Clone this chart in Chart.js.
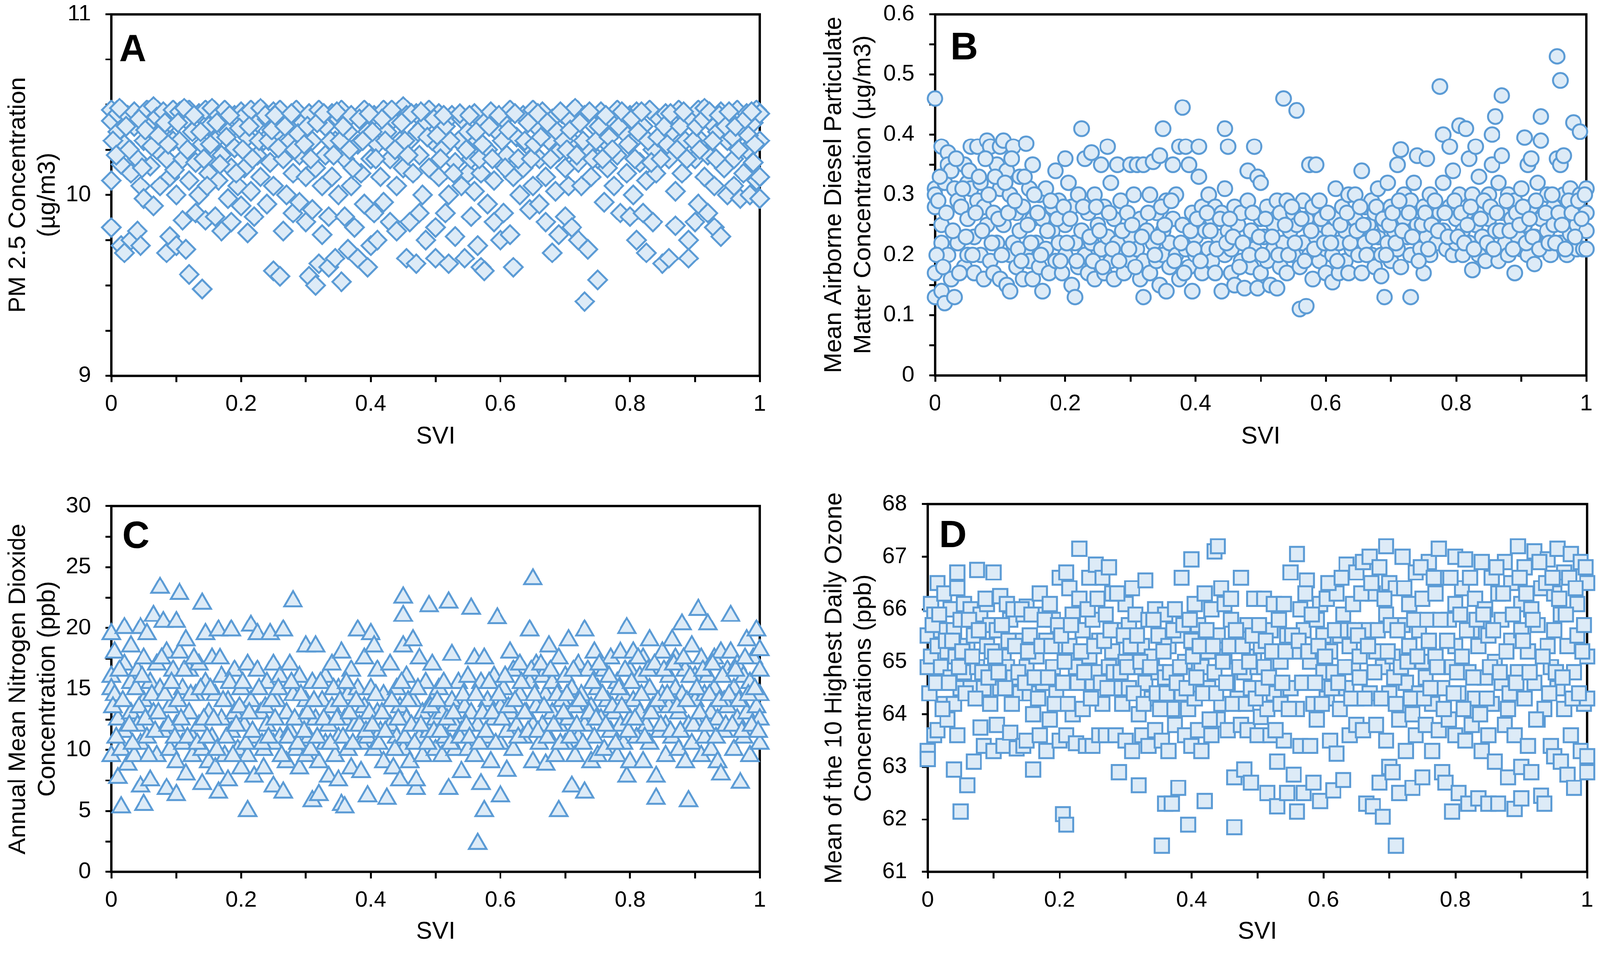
<!DOCTYPE html>
<html>
<head>
<meta charset="utf-8">
<script src="https://cdn.jsdelivr.net/npm/chart.js@4.4.1/dist/chart.umd.min.js"></script>
<style>
  html, body { margin: 0; padding: 0; background: #fff; overflow: hidden; }
  #lienzo { width: 4136px; height: 2459px; position: absolute; left: 0; top: 0; overflow: hidden; transform-origin: 0 0; }
  canvas { position: absolute; left: 0; top: 0; }
</style>
</head>
<body>
<div id="lienzo">
<canvas id="chartA" width="2150" height="1300"></canvas>
<canvas id="chartB" width="2150" height="1300"></canvas>
<canvas id="chartC" width="2150" height="1300"></canvas>
<canvas id="chartD" width="2150" height="1300"></canvas>
</div>
<script>
// Puntos: [SVI, valor]
const pm25 = [
  [0,10.47],[0,10.41],[0,10.08],[0,9.82],[0.01,10.45],[0.01,10.35],[0.015,10.17],[0.015,9.72],[0.02,9.68],[0.02,10.28],[0.025,10.44],[0.03,10.12],[0.03,9.75],[0.035,10.46],[0.035,10.38],[0.04,10.2],[0.04,9.8],[0.045,10.05],[0.045,9.72],[0.05,10.45],[0.05,10.3],[0.05,9.98],
  [0.055,10.47],[0.06,10.4],[0.06,10.16],[0.065,10.49],[0.065,9.94],[0.07,10.43],[0.07,10.25],[0.075,10.35],[0.075,10.05],[0.08,10.46],[0.085,10.2],[0.085,9.68],[0.09,10.4],[0.09,10.1],[0.09,9.77],[0.095,10.47],[0.095,10.3],[0.1,10.0],[0.1,9.72],
  [0.105,10.46],[0.105,10.3],[0.11,10.2],[0.11,9.86],[0.115,10.42],[0.115,9.7],[0.12,10.47],[0.12,10.08],[0.12,9.56],[0.125,10.35],[0.13,10.18],[0.13,9.9],[0.135,10.45],[0.135,10.0],[0.14,10.28],[0.14,9.48],[0.145,10.47],[0.145,9.86],[0.15,10.38],[0.15,10.12],
  [0.155,10.48],[0.16,10.3],[0.16,9.88],[0.165,10.44],[0.165,10.08],[0.17,10.22],[0.17,9.8],[0.175,10.47],[0.18,10.35],[0.18,9.98],[0.185,10.15],[0.185,9.85],[0.19,10.44],[0.19,10.26],[0.195,10.05],[0.2,10.46],[0.2,9.94],
  [0.205,10.44],[0.205,10.15],[0.21,10.32],[0.21,9.79],[0.215,10.47],[0.215,10.02],[0.22,9.88],[0.225,10.4],[0.225,10.22],[0.23,10.48],[0.23,10.1],[0.235,10.3],[0.24,9.95],[0.24,10.42],[0.245,10.18],[0.25,10.46],[0.25,9.58],[0.25,10.05],
  [0.255,10.35],[0.26,10.47],[0.26,9.55],[0.265,10.2],[0.265,9.8],[0.27,10.42],[0.27,10.0],[0.275,10.3],[0.28,10.12],[0.28,9.9],[0.285,10.47],[0.29,10.22],[0.29,9.96],[0.295,10.4],[0.3,10.1],[0.3,9.85],
  [0.305,10.45],[0.305,9.55],[0.31,10.3],[0.31,9.92],[0.315,10.15],[0.315,9.5],[0.32,10.47],[0.32,9.62],[0.325,10.05],[0.325,9.78],[0.33,10.38],[0.33,10.22],[0.335,9.88],[0.335,9.6],[0.34,10.45],[0.34,10.1],[0.345,10.3],[0.345,9.65],[0.35,10.0],[0.35,10.42],
  [0.355,10.47],[0.355,9.52],[0.36,10.2],[0.36,9.88],[0.365,10.35],[0.365,9.7],[0.37,10.05],[0.37,10.44],[0.375,9.82],[0.38,10.28],[0.38,9.65],[0.385,10.12],[0.39,10.47],[0.39,9.95],[0.395,9.6],[0.395,10.35],[0.4,10.2],[0.4,9.72],
  [0.405,10.44],[0.405,9.9],[0.41,10.28],[0.41,9.75],[0.415,10.1],[0.42,10.47],[0.42,9.96],[0.425,10.35],[0.43,10.2],[0.43,9.85],[0.435,10.42],[0.44,10.05],[0.44,9.8],[0.445,10.3],[0.45,10.49],[0.45,10.15],
  [0.455,10.44],[0.455,9.65],[0.46,10.3],[0.46,9.85],[0.465,10.12],[0.47,10.45],[0.47,9.62],[0.475,10.22],[0.475,9.9],[0.48,10.38],[0.48,10.0],[0.485,9.75],[0.49,10.47],[0.49,10.15],[0.495,10.3],[0.5,9.82],[0.5,9.65],
  [0.505,10.45],[0.505,10.1],[0.51,10.25],[0.515,10.38],[0.515,9.9],[0.52,10.0],[0.52,9.62],[0.525,10.44],[0.53,10.18],[0.53,9.77],[0.535,10.3],[0.54,10.42],[0.54,10.05],[0.545,9.65],[0.55,10.35],[0.55,10.12],
  [0.555,10.2],[0.555,9.88],[0.56,10.45],[0.56,10.02],[0.565,9.72],[0.565,10.3],[0.57,9.6],[0.57,10.12],[0.575,10.4],[0.575,9.58],[0.58,9.95],[0.58,10.25],[0.585,10.46],[0.59,9.85],[0.59,10.08],[0.595,10.35],[0.6,9.75],[0.6,10.18],
  [0.605,10.42],[0.605,9.9],[0.61,10.22],[0.615,10.47],[0.615,9.78],[0.62,10.1],[0.62,9.6],[0.625,10.32],[0.63,10.0],[0.635,10.44],[0.635,10.15],[0.64,10.28],[0.645,9.92],[0.65,10.47],[0.65,10.05],
  [0.655,10.38],[0.66,10.2],[0.66,9.95],[0.665,10.46],[0.67,10.1],[0.67,9.85],[0.675,10.3],[0.68,10.42],[0.68,9.68],[0.685,10.02],[0.69,10.24],[0.69,9.78],[0.695,10.45],[0.7,10.15],[0.7,9.88],
  [0.705,10.42],[0.705,10.05],[0.71,10.3],[0.71,9.82],[0.715,10.48],[0.72,10.18],[0.72,9.75],[0.725,10.05],[0.73,10.44],[0.73,9.41],[0.735,10.25],[0.735,9.7],[0.74,10.1],[0.745,10.38],[0.75,9.53],[0.75,10.2],
  [0.755,10.46],[0.76,10.3],[0.76,9.96],[0.765,10.15],[0.77,10.42],[0.775,10.05],[0.78,10.47],[0.78,10.22],[0.785,9.9],[0.79,10.35],[0.795,10.12],[0.8,10.44],[0.8,9.88],
  [0.805,10.3],[0.805,10.0],[0.81,10.46],[0.81,9.75],[0.815,10.18],[0.82,9.9],[0.82,10.38],[0.825,10.08],[0.825,9.68],[0.83,10.47],[0.835,10.25],[0.835,9.85],[0.84,10.12],[0.845,10.42],[0.85,9.62],[0.85,10.3],
  [0.855,10.45],[0.86,10.2],[0.86,9.65],[0.865,10.35],[0.87,10.02],[0.87,9.83],[0.875,10.47],[0.88,10.12],[0.885,10.3],[0.89,9.75],[0.89,9.65],[0.895,10.42],[0.9,10.2],[0.9,9.85],
  [0.905,10.47],[0.905,9.95],[0.91,10.3],[0.915,10.48],[0.915,10.1],[0.92,9.9],[0.92,10.22],[0.925,10.4],[0.93,10.05],[0.93,9.82],[0.935,10.35],[0.94,10.46],[0.94,9.77],[0.945,10.15],[0.95,10.3],[0.95,10.0],
  [0.955,10.44],[0.96,10.2],[0.96,10.05],[0.965,10.47],[0.97,10.35],[0.97,9.98],[0.975,10.12],[0.98,10.45],[0.98,10.25],[0.985,10.0],[0.99,10.4],[0.99,10.18],[0.995,10.47],[0.995,10.08],[1,10.45],[1,10.3],[1,9.98],[1,10.1],
  [0.0025,10.3],[0.0075,10.22],[0.0125,10.48],[0.0225,10.38],[0.0275,10.25],[0.0425,10.42],[0.0475,10.15],
  [0.0525,10.36],[0.0625,10.27],[0.0725,10.33],[0.0825,10.4],[0.0875,10.28],[0.0975,10.14],
  [0.1025,10.4],[0.1125,10.48],[0.1175,10.25],[0.1275,10.44],[0.1375,10.35],[0.1425,10.2],[0.1475,10.05],
  [0.1525,10.28],[0.1625,10.4],[0.1675,10.17],[0.1775,10.32],[0.1825,10.44],[0.1925,10.12],[0.1975,10.37],
  [0.2025,10.25],[0.2125,10.38],[0.2175,10.2],[0.2275,10.3],[0.2375,10.44],[0.2425,10.3],[0.2475,10.36],
  [0.2525,10.44],[0.2575,10.26],[0.2675,10.38],[0.2775,10.45],[0.2825,10.25],[0.2875,10.34],[0.2975,10.28],
  [0.3025,10.38],[0.3075,10.2],[0.3175,10.4],[0.3275,10.45],[0.3375,10.3],[0.3425,10.22],[0.3475,10.46],
  [0.3525,10.3],[0.3575,10.38],[0.3675,10.25],[0.3725,10.15],[0.3825,10.42],[0.3875,10.3],[0.3975,10.45],
  [0.4025,10.35],[0.4075,10.2],[0.4175,10.42],[0.4225,10.3],[0.4325,10.47],[0.4375,10.25],[0.4475,10.4],
  [0.4525,10.3],[0.4575,10.22],[0.4625,10.45],[0.4725,10.35],[0.4775,10.46],[0.4875,10.32],[0.4975,10.42],
  [0.5025,10.33],[0.5075,10.2],[0.5125,10.44],[0.5225,10.3],[0.5275,10.12],[0.5375,10.45],[0.5475,10.25],
  [0.5525,10.44],[0.5625,10.35],[0.5675,10.2],[0.5725,10.28],[0.5825,10.38],[0.5875,10.2],[0.5975,10.44],
  [0.6025,10.3],[0.6075,10.15],[0.6125,10.36],[0.6225,10.45],[0.6275,10.2],[0.6375,10.3],[0.6425,10.4],[0.6475,10.2],
  [0.6525,10.28],[0.6575,10.45],[0.6625,10.32],[0.6725,10.4],[0.6775,10.2],[0.6875,10.35],[0.6925,10.46],[0.6975,10.3],
  [0.7025,10.25],[0.7075,10.36],[0.7175,10.22],[0.7225,10.4],[0.7275,10.3],[0.7375,10.46],[0.7425,10.2],[0.7475,10.3],
  [0.7525,10.38],[0.7575,10.2],[0.7625,10.44],[0.7675,10.32],[0.7725,10.25],[0.7825,10.38],[0.7875,10.46],[0.7975,10.28],
  [0.8025,10.42],[0.8075,10.2],[0.8125,10.35],[0.8175,10.46],[0.8275,10.3],[0.8325,10.18],[0.8425,10.32],[0.8475,10.2],
  [0.8525,10.38],[0.8575,10.28],[0.8625,10.45],[0.8725,10.25],[0.8775,10.38],[0.8825,10.46],[0.8875,10.2],[0.8975,10.3],
  [0.9025,10.38],[0.9075,10.25],[0.9125,10.42],[0.9225,10.46],[0.9275,10.3],[0.9325,10.2],[0.9375,10.44],[0.9475,10.38],
  [0.9525,10.46],[0.9575,10.32],[0.9625,10.38],[0.9675,10.25],[0.9775,10.42],[0.9825,10.33],[0.9875,10.46],[0.9925,10.28]
];

const dieselPM = [
  [0,0.46],[0,0.31],[0,0.30],[0,0.28],[0,0.17],[0,0.13],[0.005,0.29],[0.01,0.38],[0.01,0.25],[0.01,0.22],[0.01,0.14],[0.015,0.12],[0.015,0.32],[0.02,0.37],[0.02,0.35],[0.02,0.2],[0.025,0.34],[0.025,0.16],[0.03,0.31],[0.03,0.13],[0.035,0.22],[0.035,0.29],[0.04,0.28],[0.045,0.35],[0.045,0.18],[0.05,0.2],[0.05,0.32],[0.05,0.26],
  [0.055,0.38],[0.055,0.31],[0.06,0.23],[0.06,0.17],[0.065,0.38],[0.065,0.29],[0.07,0.32],[0.07,0.2],[0.075,0.28],[0.075,0.16],[0.08,0.39],[0.08,0.25],[0.085,0.38],[0.085,0.19],[0.09,0.27],[0.09,0.17],[0.095,0.35],[0.095,0.22],[0.1,0.31],[0.1,0.16],[0.1,0.38],
  [0.105,0.39],[0.105,0.25],[0.11,0.34],[0.11,0.15],[0.115,0.3],[0.115,0.2],[0.115,0.14],[0.12,0.38],[0.12,0.22],[0.125,0.27],[0.125,0.18],[0.13,0.33],[0.13,0.24],[0.135,0.28],[0.135,0.16],[0.14,0.385],[0.14,0.21],[0.145,0.31],[0.145,0.19],[0.15,0.35],[0.15,0.26],[0.15,0.16],
  [0.155,0.22],[0.16,0.3],[0.16,0.18],[0.165,0.14],[0.165,0.26],[0.17,0.31],[0.17,0.21],[0.175,0.17],[0.18,0.28],[0.18,0.24],[0.185,0.19],[0.185,0.34],[0.19,0.29],[0.19,0.22],[0.195,0.17],[0.2,0.36],[0.2,0.25],[0.2,0.2],
  [0.205,0.32],[0.21,0.28],[0.21,0.15],[0.215,0.22],[0.215,0.13],[0.22,0.3],[0.22,0.18],[0.225,0.41],[0.225,0.24],[0.23,0.36],[0.23,0.2],[0.235,0.27],[0.235,0.17],[0.24,0.37],[0.24,0.22],[0.245,0.3],[0.245,0.16],[0.25,0.25],[0.25,0.19],
  [0.255,0.35],[0.255,0.21],[0.26,0.28],[0.26,0.17],[0.265,0.38],[0.265,0.23],[0.27,0.32],[0.27,0.19],[0.275,0.26],[0.275,0.16],[0.28,0.35],[0.28,0.22],[0.285,0.29],[0.29,0.2],[0.29,0.17],[0.295,0.27],[0.3,0.35],[0.3,0.23],[0.3,0.19],
  [0.305,0.3],[0.31,0.35],[0.31,0.21],[0.315,0.16],[0.315,0.26],[0.32,0.35],[0.32,0.13],[0.32,0.19],[0.325,0.24],[0.33,0.3],[0.33,0.17],[0.335,0.355],[0.335,0.22],[0.34,0.27],[0.34,0.19],[0.345,0.365],[0.345,0.15],[0.35,0.41],[0.35,0.24],[0.35,0.2],
  [0.355,0.29],[0.355,0.14],[0.36,0.22],[0.36,0.18],[0.365,0.35],[0.365,0.26],[0.37,0.3],[0.37,0.2],[0.375,0.38],[0.375,0.16],[0.38,0.445],[0.38,0.25],[0.385,0.38],[0.385,0.21],[0.39,0.35],[0.39,0.18],[0.395,0.27],[0.395,0.14],[0.4,0.23],[0.4,0.2],
  [0.405,0.38],[0.405,0.33],[0.41,0.28],[0.41,0.17],[0.415,0.24],[0.42,0.21],[0.42,0.3],[0.425,0.19],[0.425,0.26],[0.43,0.28],[0.43,0.17],[0.435,0.23],[0.44,0.14],[0.44,0.27],[0.445,0.41],[0.445,0.31],[0.445,0.2],[0.45,0.38],[0.45,0.24],
  [0.455,0.21],[0.455,0.17],[0.46,0.28],[0.46,0.15],[0.465,0.25],[0.47,0.19],[0.47,0.27],[0.475,0.145],[0.475,0.22],[0.48,0.34],[0.48,0.29],[0.485,0.18],[0.485,0.24],[0.49,0.38],[0.49,0.21],[0.495,0.145],[0.495,0.33],[0.5,0.26],[0.5,0.17],[0.5,0.32],
  [0.505,0.23],[0.51,0.19],[0.51,0.28],[0.515,0.15],[0.52,0.25],[0.52,0.21],[0.525,0.29],[0.525,0.145],[0.53,0.18],[0.53,0.27],[0.535,0.46],[0.535,0.22],[0.54,0.29],[0.54,0.17],[0.545,0.24],[0.55,0.27],[0.55,0.2],
  [0.555,0.44],[0.555,0.25],[0.56,0.11],[0.56,0.18],[0.565,0.29],[0.565,0.22],[0.57,0.115],[0.57,0.26],[0.575,0.35],[0.575,0.2],[0.58,0.28],[0.58,0.16],[0.585,0.35],[0.585,0.23],[0.59,0.19],[0.59,0.29],[0.595,0.25],[0.6,0.21],[0.6,0.17],
  [0.605,0.24],[0.61,0.155],[0.61,0.2],[0.615,0.31],[0.615,0.26],[0.62,0.17],[0.62,0.22],[0.625,0.28],[0.63,0.19],[0.63,0.24],[0.635,0.3],[0.635,0.17],[0.64,0.21],[0.645,0.3],[0.645,0.26],[0.65,0.2],[0.65,0.23],
  [0.655,0.34],[0.655,0.17],[0.66,0.28],[0.66,0.22],[0.665,0.25],[0.67,0.29],[0.67,0.2],[0.675,0.27],[0.675,0.18],[0.68,0.23],[0.68,0.31],[0.685,0.165],[0.685,0.2],[0.69,0.13],[0.69,0.25],[0.695,0.32],[0.695,0.22],[0.7,0.28],[0.7,0.19],
  [0.705,0.24],[0.71,0.35],[0.71,0.21],[0.715,0.375],[0.715,0.18],[0.72,0.3],[0.72,0.26],[0.725,0.23],[0.73,0.13],[0.73,0.2],[0.73,0.29],[0.735,0.32],[0.74,0.365],[0.74,0.25],[0.745,0.21],[0.75,0.17],[0.75,0.28],
  [0.755,0.36],[0.755,0.23],[0.76,0.3],[0.76,0.2],[0.765,0.26],[0.77,0.22],[0.775,0.48],[0.775,0.27],[0.78,0.4],[0.78,0.32],[0.78,0.24],[0.785,0.21],[0.79,0.38],[0.79,0.28],[0.795,0.34],[0.795,0.2],[0.8,0.26],[0.8,0.22],
  [0.805,0.415],[0.805,0.3],[0.81,0.24],[0.81,0.2],[0.815,0.41],[0.815,0.27],[0.82,0.36],[0.82,0.22],[0.825,0.175],[0.825,0.3],[0.83,0.38],[0.83,0.25],[0.835,0.2],[0.835,0.33],[0.84,0.28],[0.84,0.23],[0.845,0.19],[0.85,0.26],[0.85,0.3],
  [0.855,0.4],[0.855,0.35],[0.86,0.43],[0.86,0.24],[0.865,0.32],[0.865,0.19],[0.87,0.465],[0.87,0.365],[0.87,0.27],[0.875,0.22],[0.88,0.3],[0.88,0.2],[0.885,0.26],[0.89,0.17],[0.89,0.29],[0.895,0.23],[0.9,0.31],[0.9,0.21],
  [0.905,0.395],[0.905,0.25],[0.91,0.35],[0.91,0.2],[0.915,0.36],[0.915,0.28],[0.92,0.185],[0.92,0.23],[0.925,0.32],[0.93,0.43],[0.93,0.39],[0.93,0.26],[0.935,0.21],[0.94,0.3],[0.94,0.24],[0.945,0.2],[0.95,0.28],[0.95,0.25],
  [0.955,0.53],[0.955,0.36],[0.96,0.49],[0.96,0.35],[0.96,0.22],[0.965,0.365],[0.965,0.3],[0.97,0.2],[0.97,0.26],[0.975,0.31],[0.975,0.235],[0.98,0.42],[0.98,0.28],[0.985,0.21],[0.985,0.25],[0.99,0.405],[0.99,0.3],[0.995,0.21],[1,0.27],[1,0.31],[1,0.24],[1,0.21],
  [0.0025,0.2],[0.0075,0.33],[0.0125,0.18],[0.0175,0.27],[0.0275,0.24],[0.0325,0.36],[0.0375,0.17],[0.0425,0.31],[0.0475,0.23],
  [0.0525,0.34],[0.0575,0.2],[0.0625,0.27],[0.0675,0.33],[0.0725,0.24],[0.0775,0.36],[0.0825,0.3],[0.0875,0.22],[0.0925,0.33],[0.0975,0.26],
  [0.1025,0.2],[0.1075,0.32],[0.1125,0.27],[0.1175,0.36],[0.1225,0.29],[0.1275,0.21],[0.1325,0.19],[0.1375,0.33],[0.1425,0.25],[0.1475,0.22],
  [0.1525,0.3],[0.1575,0.27],[0.1625,0.2],[0.1725,0.24],[0.1775,0.29],[0.1875,0.26],[0.1925,0.19],[0.1975,0.28],
  [0.2025,0.22],[0.2075,0.26],[0.2175,0.19],[0.2275,0.28],[0.2375,0.23],[0.2425,0.19],[0.2475,0.28],
  [0.2525,0.24],[0.2575,0.18],[0.2675,0.27],[0.2725,0.21],[0.2825,0.19],[0.2875,0.24],[0.2975,0.21],
  [0.3025,0.25],[0.3075,0.18],[0.3175,0.23],[0.3275,0.27],[0.3375,0.2],[0.3425,0.23],[0.3475,0.28],
  [0.3525,0.25],[0.3625,0.29],[0.3675,0.19],[0.3775,0.22],[0.3825,0.17],[0.3925,0.24],[0.3975,0.21],
  [0.4025,0.26],[0.4075,0.19],[0.4175,0.27],[0.4225,0.24],[0.4325,0.21],[0.4375,0.26],[0.4475,0.22],
  [0.4525,0.26],[0.4575,0.23],[0.4675,0.18],[0.4725,0.22],[0.4825,0.2],[0.4875,0.27],[0.4975,0.23],
  [0.5025,0.2],[0.5075,0.26],[0.5175,0.23],[0.5275,0.2],[0.5375,0.25],[0.5425,0.2],[0.5475,0.28],
  [0.5525,0.22],[0.5625,0.26],[0.5675,0.19],[0.5775,0.24],[0.5825,0.21],[0.5925,0.26],[0.5975,0.22],
  [0.6025,0.27],[0.6075,0.22],[0.6175,0.19],[0.6225,0.25],[0.6325,0.27],[0.6375,0.22],[0.6475,0.24],
  [0.6525,0.28],[0.6575,0.25],[0.6625,0.2],[0.6725,0.23],[0.6775,0.28],[0.6875,0.26],[0.6925,0.2],[0.6975,0.25],
  [0.7025,0.27],[0.7075,0.22],[0.7125,0.29],[0.7175,0.24],[0.7275,0.27],[0.7325,0.23],[0.7425,0.19],[0.7475,0.25],
  [0.7525,0.27],[0.7575,0.21],[0.7625,0.25],[0.7675,0.29],[0.7725,0.24],[0.7825,0.27],[0.7875,0.23],[0.7975,0.29],
  [0.8025,0.23],[0.8075,0.27],[0.8125,0.22],[0.8175,0.25],[0.8225,0.28],[0.8275,0.21],[0.8375,0.26],[0.8425,0.29],[0.8475,0.22],
  [0.8525,0.28],[0.8575,0.21],[0.8625,0.27],[0.8675,0.24],[0.8775,0.29],[0.8825,0.24],[0.8875,0.21],[0.8925,0.27],[0.8975,0.25],
  [0.9025,0.28],[0.9075,0.22],[0.9125,0.26],[0.9175,0.23],[0.9225,0.29],[0.9275,0.21],[0.9375,0.27],[0.9425,0.22],[0.9475,0.3],
  [0.9525,0.22],[0.9575,0.27],[0.9625,0.25],[0.9675,0.21],[0.9725,0.29],[0.9775,0.27],[0.9825,0.23],[0.9875,0.29],[0.9925,0.26],[0.9975,0.3]
];

const no2 = [
  [0,19.5],[0,16],[0,15],[0,9.5],[0.005,18],[0.005,14.5],[0.01,12.5],[0.01,7.7],[0.015,10],[0.015,5.3],[0.02,17],[0.02,20],[0.02,11.5],[0.025,8.8],[0.03,18.5],[0.03,15.5],[0.03,13],[0.035,9.5],[0.04,16.5],[0.04,12],[0.045,7],[0.045,10.5],[0.045,20],[0.05,14],[0.05,5.5],[0.05,17.5],
  [0.055,19.5],[0.055,11],[0.06,15.5],[0.06,7.5],[0.065,21],[0.065,13],[0.07,17],[0.07,9.5],[0.075,23.3],[0.075,15],[0.08,20.5],[0.08,11.5],[0.085,6.8],[0.085,18],[0.09,13.5],[0.09,10],[0.095,16.5],[0.1,20.5],[0.1,12],[0.1,6.3],[0.1,9],
  [0.105,22.8],[0.105,18],[0.11,15],[0.11,10.5],[0.115,19],[0.115,8],[0.12,13],[0.12,16.5],[0.125,11],[0.125,9.5],[0.13,14.5],[0.135,17],[0.135,12],[0.14,22],[0.14,7.2],[0.14,10],[0.145,15.5],[0.145,19.5],[0.15,13],[0.15,9],
  [0.155,17.5],[0.155,11],[0.16,8.5],[0.16,14.5],[0.165,19.8],[0.165,6.5],[0.17,12.5],[0.17,16],[0.175,9.5],[0.18,14],[0.18,7.5],[0.185,19.8],[0.185,11.5],[0.19,16.5],[0.19,13],[0.195,10],[0.2,15],[0.2,8.5],
  [0.205,12],[0.21,5],[0.21,17],[0.21,9.5],[0.215,20.2],[0.215,14],[0.22,11],[0.22,7.8],[0.225,16.5],[0.225,19.5],[0.23,13],[0.235,10],[0.235,8.5],[0.24,15.5],[0.24,12],[0.245,19.5],[0.25,17],[0.25,10.5],[0.25,7],
  [0.255,14],[0.26,11],[0.26,16],[0.265,6.5],[0.265,19.8],[0.27,13],[0.27,9],[0.275,17],[0.275,11.5],[0.28,22.2],[0.28,14.5],[0.285,10],[0.29,16],[0.29,8.5],[0.295,12.5],[0.3,18.5],[0.3,14],[0.3,9.5],
  [0.305,11],[0.31,5.8],[0.31,15.5],[0.315,18.5],[0.315,12.5],[0.32,9],[0.32,6.3],[0.325,14],[0.33,16],[0.33,10.5],[0.335,12],[0.335,7.8],[0.34,17],[0.34,13.5],[0.345,9.5],[0.35,15],[0.35,11],[0.35,7.5],
  [0.355,5.5],[0.355,18],[0.36,12.5],[0.36,5.3],[0.365,14.5],[0.365,10],[0.37,16.5],[0.37,8.5],[0.375,12],[0.38,19.8],[0.38,15],[0.385,10.5],[0.385,8.2],[0.39,17.5],[0.39,13.5],[0.395,6.2],[0.395,11],[0.4,19.5],[0.4,15],
  [0.405,18.5],[0.405,10],[0.41,13],[0.41,16.5],[0.415,11.5],[0.42,9],[0.42,14.5],[0.425,6],[0.43,12],[0.43,17],[0.435,8.5],[0.44,15],[0.44,11],[0.445,7.5],[0.445,13.5],[0.45,22.5],[0.45,21],[0.45,18.5],[0.45,10],
  [0.455,16],[0.455,12.5],[0.46,9],[0.465,19],[0.465,14],[0.47,6.8],[0.47,7.5],[0.475,11],[0.475,17.5],[0.48,13],[0.48,9.5],[0.485,15.5],[0.49,21.8],[0.49,11.5],[0.495,17],[0.495,14],[0.5,10],[0.5,12.5],
  [0.505,15],[0.51,9.5],[0.51,13],[0.515,11],[0.52,22.1],[0.52,6.8],[0.525,17.8],[0.525,14],[0.53,10],[0.53,12],[0.535,15.5],[0.54,8.2],[0.54,11.5],[0.545,13.5],[0.55,16],[0.55,10],
  [0.555,21.6],[0.555,13],[0.56,17.5],[0.56,9.5],[0.565,2.3],[0.565,12],[0.57,15.5],[0.57,7.2],[0.575,5],[0.575,17.5],[0.58,11],[0.58,14],[0.585,9],[0.59,16],[0.59,12.5],[0.595,20.8],[0.6,6.2],[0.6,13.5],[0.6,10.5],
  [0.605,15],[0.61,11.5],[0.61,8.3],[0.615,18],[0.615,13],[0.62,16.5],[0.62,10],[0.625,12],[0.63,14.5],[0.63,17],[0.635,11],[0.64,13],[0.645,19.8],[0.645,15.5],[0.65,24],[0.65,12],[0.65,9],
  [0.655,17],[0.655,13.5],[0.66,10.5],[0.665,16],[0.665,12],[0.67,14.5],[0.67,8.8],[0.675,18.5],[0.675,11],[0.68,13],[0.68,15.5],[0.685,9.5],[0.69,5],[0.69,17.5],[0.69,12],[0.695,14],[0.7,10.5],[0.7,16],
  [0.705,19],[0.705,12.5],[0.71,7],[0.71,15],[0.715,9.5],[0.715,13.5],[0.72,17],[0.72,11],[0.725,14.5],[0.73,19.8],[0.73,6.5],[0.73,12],[0.735,16.5],[0.74,9],[0.74,13.5],[0.745,18],[0.745,11],[0.75,15],[0.75,9.5],
  [0.755,12.5],[0.76,16.5],[0.76,10],[0.765,14],[0.77,17.5],[0.77,11.5],[0.775,13],[0.78,15.5],[0.78,9.5],[0.785,18],[0.785,12],[0.79,14.5],[0.79,10.5],[0.795,20],[0.795,7.8],[0.8,16.5],[0.8,12.5],[0.8,9],
  [0.805,18],[0.805,14],[0.81,11],[0.815,16],[0.815,13],[0.82,9],[0.82,17.5],[0.825,12],[0.83,15],[0.83,19],[0.83,10.5],[0.835,13.5],[0.84,7.8],[0.84,6],[0.84,16.5],[0.845,11.5],[0.85,14.5],[0.85,18],
  [0.855,12],[0.855,9.5],[0.86,16],[0.86,13.5],[0.865,19],[0.865,11],[0.87,15],[0.87,17.5],[0.875,10],[0.875,13],[0.88,20.3],[0.88,14.5],[0.885,9],[0.885,16.5],[0.89,12],[0.89,5.8],[0.895,18.5],[0.895,10.5],[0.9,14],[0.9,16],
  [0.905,21.5],[0.905,12],[0.91,17.5],[0.91,9.5],[0.915,14.5],[0.915,11],[0.92,16],[0.92,20.3],[0.925,13],[0.925,10],[0.93,17.5],[0.93,15],[0.935,9],[0.935,12.5],[0.94,18],[0.94,8],[0.945,14],[0.945,11.5],[0.95,16.5],[0.95,13.5],
  [0.955,21],[0.955,18],[0.96,10],[0.96,15],[0.965,12.5],[0.965,17],[0.97,7.3],[0.97,14],[0.975,11],[0.975,16],[0.98,19],[0.98,13],[0.985,9.5],[0.985,15.5],[0.99,17.5],[0.99,11.5],[0.995,13.5],[0.995,19.8],[1,16.5],[1,10.5],[1,12.5],[1,14.5],[1,18.2],
  [0.0025,13.5],[0.0075,11],[0.0125,16.5],[0.0175,14],[0.0275,12],[0.0325,10.5],[0.0375,15],[0.0425,13.5],[0.0475,16],
  [0.0525,12.5],[0.0575,9.5],[0.0625,14.5],[0.0675,11.5],[0.0725,13],[0.0775,17.5],[0.0825,14.5],[0.0875,12],[0.0925,15.5],[0.0975,11],
  [0.1025,14],[0.1075,12.5],[0.1125,16.5],[0.1175,11],[0.1225,14.5],[0.1275,17.5],[0.1325,10.5],[0.1375,15],[0.1425,12.5],[0.1475,11],
  [0.1525,15],[0.1575,12.5],[0.1625,10],[0.1675,17.5],[0.1725,14],[0.1775,11],[0.1825,15.5],[0.1875,9.5],[0.1925,12],[0.1975,13.5],
  [0.2025,15.5],[0.2075,10.5],[0.2125,13],[0.2175,11.5],[0.2275,15],[0.2325,10.5],[0.2375,13.5],[0.2425,11],[0.2475,14],
  [0.2525,12.5],[0.2575,15],[0.2625,9.5],[0.2725,11],[0.2775,15.5],[0.2825,12.5],[0.2875,10.5],[0.2925,14.5],[0.2975,11.5],
  [0.3025,13],[0.3075,10],[0.3125,14],[0.3175,11],[0.3225,15.5],[0.3275,12.5],[0.3375,10.5],[0.3425,15],[0.3475,12.5],
  [0.3525,14],[0.3575,11],[0.3625,15.5],[0.3675,13],[0.3725,10.5],[0.3775,14],[0.3825,12],[0.3925,11.5],[0.3975,13],
  [0.4025,12],[0.4075,14.5],[0.4125,10.5],[0.4175,13],[0.4225,11.5],[0.4325,14],[0.4375,10],[0.4425,12.5],[0.4475,15.5],
  [0.4525,11],[0.4575,14],[0.4625,12],[0.4675,10.5],[0.4725,15],[0.4775,12],[0.4875,10.5],[0.4925,13.5],[0.4975,11.5],
  [0.5025,14],[0.5075,11.5],[0.5125,15.5],[0.5175,12.5],[0.5225,10.5],[0.5275,13],[0.5375,11],[0.5425,14.5],[0.5475,12],
  [0.5525,11],[0.5625,14.5],[0.5675,10.5],[0.5725,13],[0.5775,11.5],[0.5825,15.5],[0.5875,13],[0.5925,10.5],[0.5975,14.5],
  [0.6025,12.5],[0.6075,16],[0.6125,13.5],[0.6225,14],[0.6275,11],[0.6325,15.5],[0.6375,13],[0.6425,11.5],[0.6475,16.5],
  [0.6525,14.5],[0.6575,11.5],[0.6625,17],[0.6675,13.5],[0.6725,11],[0.6775,16.5],[0.6825,12],[0.6875,14.5],[0.6925,10.5],[0.6975,13],
  [0.7025,14.5],[0.7075,11],[0.7125,16.5],[0.7175,12],[0.7225,14],[0.7275,10.5],[0.7375,13],[0.7425,15.5],[0.7475,12.5],
  [0.7525,17],[0.7575,14.5],[0.7625,12],[0.7675,16],[0.7725,13.5],[0.7775,10.5],[0.7825,15],[0.7875,13.5],[0.7925,16.5],[0.7975,11.5],
  [0.8025,15.5],[0.8075,12.5],[0.8125,17.5],[0.8175,14.5],[0.8225,11],[0.8275,16.5],[0.8325,13],[0.8375,17],[0.8425,14],[0.8475,12],
  [0.8525,16.5],[0.8575,14.5],[0.8625,11.5],[0.8675,17],[0.8725,13.5],[0.8775,11.5],[0.8825,17.5],[0.8875,14],[0.8925,16],[0.8975,12],
  [0.9025,15],[0.9075,13],[0.9125,16.5],[0.9175,12],[0.9225,14.5],[0.9275,17],[0.9325,11],[0.9375,14],[0.9425,16],[0.9475,12],
  [0.9525,14.5],[0.9575,12],[0.9625,16.5],[0.9675,14],[0.9725,11.5],[0.9775,17.5],[0.9825,14.5],[0.9875,12],[0.9925,15],[0.9975,11.5]
];

const ozone = [
  [0,65.5],[0,64.9],[0,63.3],[0,63.15],[0.005,66.1],[0.005,65.1],[0.01,65.9],[0.01,63.6],[0.015,66.5],[0.015,65.3],[0.015,63.7],[0.02,64.9],[0.02,65.6],[0.025,66.3],[0.025,64.2],[0.03,65.2],[0.03,63.9],[0.035,66],[0.035,64.7],[0.04,64.2],[0.04,65.6],[0.04,62.95],[0.045,66.7],[0.045,63.6],[0.045,66.4],[0.05,62.15],[0.05,64.5],[0.05,65.8],
  [0.055,64.8],[0.055,66.1],[0.06,62.65],[0.06,65.3],[0.065,64.5],[0.065,66],[0.07,63.1],[0.07,65.5],[0.075,66.75],[0.075,64.9],[0.08,63.75],[0.08,65.9],[0.085,64.5],[0.085,63.4],[0.09,65.3],[0.09,66.1],[0.095,64.2],[0.095,65.7],[0.1,66.7],[0.1,64.8],[0.1,63.3],
  [0.105,65.6],[0.105,63.8],[0.11,66.25],[0.11,64.5],[0.115,65.1],[0.115,63.4],[0.12,66.1],[0.12,64.9],[0.125,63.65],[0.125,65.8],[0.13,64.7],[0.13,66],[0.135,63.35],[0.14,65.4],[0.14,64.4],[0.145,65.9],[0.145,63.4],[0.15,64.9],[0.15,66.05],[0.15,63.5],
  [0.155,65.5],[0.155,64.4],[0.16,62.95],[0.16,64],[0.165,65.9],[0.165,65.1],[0.17,63.6],[0.17,66.3],[0.175,64.6],[0.18,63.3],[0.18,65.4],[0.185,66.1],[0.185,63.9],[0.19,64.9],[0.19,65.8],[0.195,64.4],[0.2,66.6],[0.2,63.5],[0.2,65.3],
  [0.205,62.1],[0.205,64.6],[0.21,61.9],[0.21,66.7],[0.21,63.6],[0.215,65.3],[0.215,66.4],[0.22,64],[0.22,65.9],[0.225,63.45],[0.225,64.9],[0.23,67.15],[0.23,66.2],[0.235,65.6],[0.235,64.1],[0.24,63.4],[0.245,65.1],[0.245,66.6],[0.25,64.6],[0.25,63.4],[0.25,65.8],
  [0.255,66.85],[0.255,64.8],[0.26,63.6],[0.26,65.4],[0.265,66.6],[0.265,64.2],[0.27,65.9],[0.27,63.6],[0.275,66.8],[0.275,64.9],[0.28,66.3],[0.28,65.2],[0.285,64.5],[0.285,63.6],[0.29,62.9],[0.29,65.6],[0.295,64.2],[0.3,65],[0.3,66.1],[0.3,63.5],
  [0.305,64.5],[0.305,65.7],[0.31,66.4],[0.31,63.3],[0.315,64.9],[0.315,65.9],[0.32,62.65],[0.32,64],[0.325,65.3],[0.325,63.6],[0.33,66.55],[0.33,64.6],[0.335,65.8],[0.335,63.4],[0.34,64.3],[0.34,65.1],[0.345,66],[0.345,63.7],[0.35,64.8],[0.35,65.5],
  [0.355,61.5],[0.355,63.5],[0.36,62.3],[0.36,64.7],[0.36,65.9],[0.365,63.3],[0.365,65.3],[0.37,62.3],[0.37,64.1],[0.375,66],[0.375,63.8],[0.38,62.6],[0.38,65.5],[0.385,64.4],[0.385,66.6],[0.39,63.6],[0.39,65],[0.395,61.9],[0.395,64.1],[0.4,66.95],[0.4,65.4],[0.4,63.4],
  [0.405,64.3],[0.405,66.1],[0.41,63.7],[0.41,65.7],[0.415,64.9],[0.415,63.3],[0.42,62.35],[0.42,66.3],[0.425,65.2],[0.425,64.5],[0.43,66],[0.43,63.6],[0.435,67.1],[0.435,64.8],[0.44,67.2],[0.44,63.9],[0.44,65.5],[0.445,66.4],[0.445,64.2],[0.45,65.1],[0.45,66.1],
  [0.455,63.7],[0.455,64.6],[0.46,65.8],[0.46,66.2],[0.465,61.85],[0.465,62.8],[0.47,64.3],[0.47,65.3],[0.475,63.8],[0.475,66.6],[0.48,62.95],[0.48,64.8],[0.485,65.7],[0.485,63.7],[0.49,62.7],[0.49,64.5],[0.495,66.2],[0.495,65.1],[0.5,63.6],[0.5,64.9],
  [0.505,63.95],[0.505,65.3],[0.51,64.9],[0.51,66.2],[0.515,62.5],[0.515,64.1],[0.52,65.6],[0.52,63.6],[0.525,64.4],[0.525,66.1],[0.53,62.25],[0.53,63.1],[0.535,65],[0.535,64.2],[0.54,66.1],[0.54,63.5],[0.545,65.5],[0.545,62.5],[0.55,64.5],[0.55,66.7],
  [0.555,62.85],[0.555,65.2],[0.56,67.05],[0.56,62.15],[0.56,64.1],[0.565,66],[0.565,63.4],[0.57,65.6],[0.57,62.5],[0.575,64.6],[0.575,66.55],[0.58,63.4],[0.58,65],[0.585,64.2],[0.585,62.7],[0.59,65.8],[0.59,63.9],[0.595,66.1],[0.595,62.35],[0.6,64.8],[0.6,65.5],
  [0.605,64.3],[0.605,66.2],[0.61,65.2],[0.61,63.5],[0.615,62.55],[0.615,64.8],[0.62,66.3],[0.62,63.25],[0.625,65.5],[0.625,64.1],[0.63,62.75],[0.63,65.9],[0.635,64.5],[0.635,66.85],[0.64,63.6],[0.64,65.3],[0.645,66.1],[0.645,64.9],[0.65,66.7],[0.65,64.3],[0.65,63.8],
  [0.655,64.7],[0.655,65.1],[0.66,66.9],[0.66,63.7],[0.665,62.3],[0.665,65.6],[0.67,67],[0.67,64.4],[0.675,62.25],[0.675,66.3],[0.68,63.8],[0.68,65.2],[0.685,62.7],[0.685,66.8],[0.69,62.05],[0.69,64.9],[0.695,67.2],[0.695,63.5],[0.695,65.9],[0.7,63],[0.7,64.4],[0.7,66.5],
  [0.705,62.9],[0.705,65.1],[0.71,61.5],[0.71,66.4],[0.71,64.2],[0.715,62.5],[0.715,63.9],[0.72,65.7],[0.72,67],[0.725,64.6],[0.725,63.3],[0.73,66.1],[0.73,65.3],[0.735,62.6],[0.735,64],[0.74,66.7],[0.74,63.6],[0.745,65.6],[0.745,64.4],[0.75,62.8],[0.75,66.2],[0.75,65],
  [0.755,63.8],[0.755,64.7],[0.76,66.9],[0.76,65.4],[0.765,63.3],[0.765,64.2],[0.77,66.3],[0.77,65.1],[0.775,67.15],[0.775,63.7],[0.78,62.9],[0.78,64.5],[0.785,66.6],[0.785,62.7],[0.79,65.8],[0.79,63.9],[0.795,62.15],[0.795,64.9],[0.8,66.1],[0.8,63.6],[0.8,67],[0.8,65.3],
  [0.805,62.5],[0.805,64.4],[0.81,66.4],[0.81,65.1],[0.815,63.5],[0.815,66.95],[0.82,64.8],[0.82,62.3],[0.825,65.6],[0.825,63.8],[0.83,66.2],[0.83,64.3],[0.835,62.4],[0.835,65.3],[0.84,66.9],[0.84,63.3],[0.845,64.7],[0.845,66],[0.85,63.6],[0.85,65.5],[0.85,62.3],
  [0.855,66.6],[0.855,64.2],[0.86,65],[0.86,63.1],[0.865,66.3],[0.865,62.3],[0.87,64.6],[0.87,65.8],[0.875,63.8],[0.875,66.9],[0.88,64.1],[0.88,62.8],[0.885,65.4],[0.885,66.5],[0.89,62.2],[0.89,63.6],[0.895,67.2],[0.895,64.8],[0.9,65.6],[0.9,63],[0.9,66.1],[0.9,62.4],
  [0.905,66.8],[0.905,64.3],[0.91,63.4],[0.91,65.2],[0.915,66],[0.915,62.9],[0.92,67.1],[0.92,64.6],[0.925,63.9],[0.925,65.7],[0.93,62.45],[0.93,66.4],[0.935,64.1],[0.935,62.3],[0.94,65.3],[0.94,66.95],[0.945,63.4],[0.945,64.9],[0.95,66.3],[0.95,65.6],[0.95,63.2],
  [0.955,67.15],[0.955,64.5],[0.96,63.1],[0.96,65.9],[0.965,66.7],[0.965,64.1],[0.97,62.85],[0.97,65.3],[0.975,67.05],[0.975,63.6],[0.98,62.6],[0.98,64.8],[0.985,66.1],[0.985,65.5],[0.99,63.3],[0.99,66.9],[0.995,64.2],[0.995,65.7],[1,66.5],[1,63.2],[1,64.3],[1,65.1],[1,62.9],
  [0.0025,64.4],[0.0075,65.7],[0.0125,64.6],[0.0175,65.9],[0.0225,64.1],[0.0275,65.4],[0.0325,64.6],[0.0375,65.4],[0.0425,65.1],[0.0475,64.9],
  [0.0525,65.2],[0.0575,64.4],[0.0625,65.8],[0.0675,65.1],[0.0725,64.3],[0.0775,65.6],[0.0825,64.8],[0.0875,66.2],[0.0925,64.7],[0.0975,65.2],
  [0.1025,65.1],[0.1075,64.8],[0.1125,65.7],[0.1175,64.5],[0.1225,65.4],[0.1275,64.2],[0.1325,65.3],[0.1375,64.8],[0.1425,66],[0.1475,64.6],
  [0.1525,65.2],[0.1575,65.9],[0.1625,64.7],[0.1675,64.3],[0.1725,65.3],[0.1775,65.8],[0.1825,64.7],[0.1875,65.3],[0.1925,64.2],[0.1975,65.7],
  [0.2025,65.5],[0.2075,65],[0.2125,64.2],[0.2175,65.7],[0.2275,64.6],[0.2325,65.2],[0.2375,64.8],[0.2425,66],[0.2475,64.3],
  [0.2525,65.3],[0.2575,66.2],[0.2625,64.6],[0.2675,65.4],[0.2725,64.5],[0.2775,65.6],[0.2825,64.8],[0.2875,66.3],[0.2925,64.8],[0.2975,65.5],
  [0.3025,64.9],[0.3075,65.3],[0.3125,64.4],[0.3175,65.5],[0.3225,65],[0.3275,64.2],[0.3375,64.9],[0.3425,65.8],[0.3475,64.4],
  [0.3525,64.1],[0.3575,65.2],[0.3625,64.4],[0.3675,64.8],[0.3725,65.6],[0.3775,64.6],[0.3825,64.9],[0.3875,65.7],[0.3925,64.5],[0.3975,65.8],
  [0.4025,65.1],[0.4075,64.7],[0.4125,65.3],[0.4175,64.4],[0.4225,65.6],[0.4275,63.9],[0.4325,65.3],[0.4375,64.4],[0.4475,65],[0.4525,64.6],
  [0.4575,65.3],[0.4625,64.2],[0.4675,65.6],[0.4725,64.9],[0.4775,65.3],[0.4825,64.2],[0.4875,65],[0.4925,65.5],[0.4975,64.3],
  [0.5025,65.7],[0.5075,64.5],[0.5125,65.4],[0.5175,64.7],[0.5225,65.2],[0.5275,63.7],[0.5325,65.8],[0.5375,64.6],[0.5425,65.2],[0.5475,64.1],
  [0.5525,65.5],[0.5625,65.4],[0.5675,64.6],[0.5725,66.3],[0.5775,65.2],[0.5825,65.9],[0.5875,64.6],[0.5925,65.3],[0.5975,64.2],
  [0.6025,65.1],[0.6075,66.5],[0.6125,64.5],[0.6175,65.6],[0.6225,64.6],[0.6275,66.6],[0.6325,64.9],[0.6375,65.6],[0.6425,64.3],[0.6475,65.6],
  [0.6525,65.5],[0.6575,66.3],[0.6625,64.3],[0.6675,65.3],[0.6725,66.5],[0.6775,64.8],[0.6825,65.6],[0.6875,64.3],[0.6925,66.2],[0.6975,65.2],
  [0.7025,65.7],[0.7075,64.7],[0.7125,65.6],[0.7175,64.9],[0.7225,66.4],[0.7275,65],[0.7325,64.3],[0.7375,65.8],[0.7425,65.1],[0.7475,66.8],
  [0.7525,64.3],[0.7575,65.8],[0.7625,64.5],[0.7675,66.6],[0.7725,64.9],[0.7775,65.8],[0.7825,64.1],[0.7875,65.4],[0.7925,66.6],[0.7975,64.4],
  [0.8025,64.8],[0.8075,65.9],[0.8125,64.1],[0.8175,65.6],[0.8225,66.6],[0.8275,64.7],[0.8325,65.8],[0.8375,64],[0.8425,65.9],[0.8475,64.3],
  [0.8525,64.9],[0.8575,65.6],[0.8625,66.8],[0.8675,64.8],[0.8725,66.3],[0.8775,65.2],[0.8825,64.4],[0.8875,65.9],[0.8925,64.6],[0.8975,66.6],
  [0.9025,65.4],[0.9075,66.3],[0.9125,64.8],[0.9175,65.8],[0.9225,63.9],[0.9275,66.9],[0.9325,65.1],[0.9375,66.5],[0.9425,64.4],[0.9475,66.6],
  [0.9525,64.8],[0.9575,66.2],[0.9625,64.7],[0.9675,65.9],[0.9725,66.6],[0.9775,64.3],[0.9825,66.4],[0.9875,64.4],[0.9925,65.2],[0.9975,66.8]
];

const panelLetters = ["A", "B", "C", "D"];
const xTitle = "SVI";
const yTitles = [
  ["PM 2.5 Concentration", "(µg/m3)"],
  ["Mean Airborne Diesel Particulate", "Matter Concentration (µg/m3)"],
  ["Annual Mean Nitrogen Dioxide", "Concentration (ppb)"],
  ["Mean of the 10 Highest Daily Ozone", "Concentrations (ppb)"]
];

const AZUL_BORDE = "#5b9bd5";
const AZUL_RELLENO = "#ddebf7";
const FUENTE = "'Liberation Sans', Arial, sans-serif";

// Si la ventana no mide 4136 px de ancho, se escala todo el lienzo (igual en ambos ejes)
const lienzo = document.getElementById("lienzo");
const escala = (window.innerWidth || 4136) / 4136;
lienzo.style.transform = `scale(${escala})`;

// Marco negro alrededor del área del gráfico + letra del panel
const marcoPlugin = {
  id: "marco",
  beforeDatasetsDraw(chart) {
    const { ctx, chartArea: a } = chart;
    ctx.save();
    ctx.strokeStyle = "#000";
    ctx.lineWidth = 6;
    ctx.strokeRect(a.left, a.top, a.right - a.left, a.bottom - a.top);
    ctx.restore();
  },
  afterDraw(chart, args, opts) {
    const { ctx, chartArea: a } = chart;
    ctx.save();
    ctx.fillStyle = "#000";
    ctx.font = "bold 98px " + FUENTE;
    ctx.textBaseline = "alphabetic";
    ctx.fillText(opts.letra, a.left + opts.dx, a.top + opts.dy);
    ctx.restore();
  }
};

const crearPanel = (id, datos, estilo, radio, yMin, yMax, yPaso, etiquetaY, cfg) => {
  const canvas = document.getElementById(id);
  const t = cfg.area;
  const chart = new Chart(canvas.getContext("2d"), {
    type: "scatter",
    data: {
      datasets: [{
        data: datos.map(([x, y]) => ({ x, y })),
        pointStyle: estilo,
        pointRadius: radio,
        pointBorderWidth: 5,
        pointBorderColor: AZUL_BORDE,
        pointBackgroundColor: AZUL_RELLENO,
        clip: false
      }]
    },
    options: {
      responsive: false,
      animation: false,
      devicePixelRatio: 1,
      layout: {
        padding: {
          left: 0, top: 0,
          right: canvas.width - cfg.yAncho - (t.right - t.left),
          bottom: canvas.height - 80 - (t.bottom - t.top) - cfg.xAlto
        }
      },
      plugins: {
        legend: { display: false },
        tooltip: { enabled: false },
        marco: { letra: cfg.letra, dx: cfg.dx, dy: cfg.dy }
      },
      scales: {
        x: {
          type: "linear",
          min: 0,
          max: 1,
          afterFit: (s) => { s.height = cfg.xAlto; },
          ticks: {
            stepSize: 0.1,
            autoSkip: false,
            maxRotation: 0,
            padding: 22,
            color: "#000",
            font: { family: FUENTE, size: 58 },
            callback: (v) => {
              const d = Math.round(v * 10);
              return d % 2 === 0 ? String(d / 10) : "";
            }
          },
          grid: {
            drawOnChartArea: false,
            drawTicks: true,
            tickLength: 17,
            tickWidth: 5,
            tickColor: "#000"
          },
          border: { display: false },
          title: {
            display: true,
            text: xTitle,
            color: "#000",
            padding: 0,
            font: { family: FUENTE, size: 63, lineHeight: 1.2 }
          }
        },
        y: {
          type: "linear",
          min: yMin,
          max: yMax,
          afterFit: (s) => { s.width = cfg.yAncho; },
          ticks: {
            stepSize: yPaso,
            autoSkip: false,
            padding: 38,
            color: "#000",
            font: { family: FUENTE, size: 58 },
            callback: etiquetaY
          },
          grid: {
            drawOnChartArea: false,
            drawTicks: true,
            tickLength: 15,
            tickWidth: 5,
            tickColor: "#000"
          },
          border: { display: false },
          title: {
            display: true,
            text: cfg.titulo,
            color: "#000",
            padding: 0,
            font: { family: FUENTE, size: 63, lineHeight: 1.2 }
          }
        }
      }
    },
    plugins: [marcoPlugin]
  });

  // Ajusta el tamaño del área y coloca el canvas para que el área caiga en su sitio
  for (let i = 0; i < 3; i++) {
    const a = chart.chartArea;
    const p = chart.options.layout.padding;
    p.right += (a.right - a.left) - (t.right - t.left);
    p.bottom += (a.bottom - a.top) - (t.bottom - t.top);
    chart.update();
  }
  const a = chart.chartArea;
  canvas.style.left = (t.left - a.left) + "px";
  canvas.style.top = (t.top - a.top) + "px";
  return chart;
};

const cada = (n) => (v) => {
  const r = Math.round(v * 1000) / 1000;
  return Math.abs(r / n - Math.round(r / n)) < 1e-6 ? String(r) : "";
};

crearPanel("chartA", pm25, "rectRot", 24, 9, 11, 0.25, cada(1), {
  area: { left: 288, top: 37, right: 1964, bottom: 971 }, yAncho: 278, xAlto: 196,
  titulo: yTitles[0], letra: panelLetters[0], dx: 20, dy: 121
});
crearPanel("chartB", dieselPM, "circle", 19, 0, 0.6, 0.05, cada(0.1), {
  area: { left: 2417, top: 37, right: 4101, bottom: 970 }, yAncho: 298, xAlto: 197,
  titulo: yTitles[1], letra: panelLetters[1], dx: 40, dy: 116
});
crearPanel("chartC", no2, "triangle", 26, 0, 30, 2.5, cada(5), {
  area: { left: 288, top: 1308, right: 1964, bottom: 2253 }, yAncho: 278, xAlto: 193,
  titulo: yTitles[2], letra: panelLetters[2], dx: 28, dy: 108
});
crearPanel("chartD", ozone, "rect", 26, 61, 68, 1, cada(1), {
  area: { left: 2398, top: 1303, right: 4103, bottom: 2253 }, yAncho: 278, xAlto: 193,
  titulo: yTitles[3], letra: panelLetters[3], dx: 30, dy: 111
});
</script>
</body>
</html>
